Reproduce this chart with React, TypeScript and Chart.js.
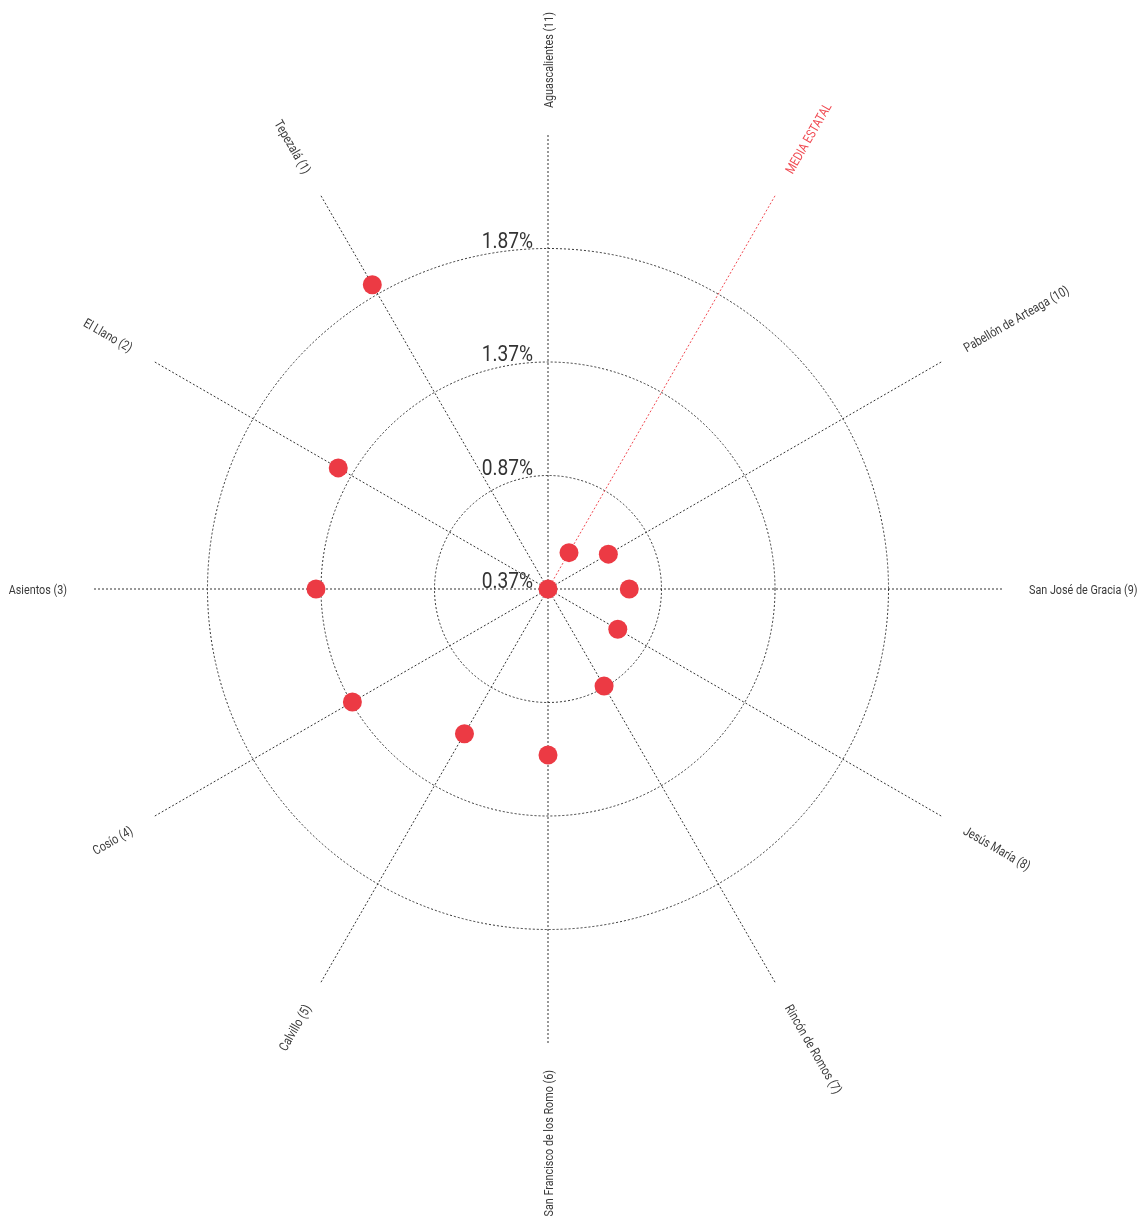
import React, { useEffect, useRef } from "react";
import { Chart, registerables } from "chart.js";

Chart.register(...registerables);

const categories = [
  "Aguascalientes (11)",
  "MEDIA ESTATAL",
  "Pabellón de Arteaga (10)",
  "San José de Gracia (9)",
  "Jesús María (8)",
  "Rincón de Romos (7)",
  "San Francisco de los Romo (6)",
  "Calvillo (5)",
  "Cosío (4)",
  "Asientos (3)",
  "El Llano (2)",
  "Tepezalá (1)",
];

const values = [0.37, 0.555, 0.677, 0.728, 0.725, 0.864, 1.101, 1.106, 1.365, 1.392, 1.437, 1.918];

const tickValues = [0.37, 0.87, 1.37, 1.87];
const tickLabels = ["0.37%", "0.87%", "1.37%", "1.87%"];
const scaleMin = 0.37;
const scaleMax = 2.37;
const highlightIndex = 1;

const RED = "#ec3a44";
const RED_LINE = "#f04a52";
const DARK = "#333333";
const FONT = 'Roboto, "Open Sans", sans-serif';

const labelPlugin = {
  id: "radialLabels",
  afterDraw(chart: any) {
    const scale = chart.scales.r;
    const ctx = chart.ctx;
    const cx = scale.xCenter;
    const cy = scale.yCenter;
    const R = scale.drawingArea;
    ctx.save();
    // tick labels
    ctx.font = `22px ${FONT}`;
    ctx.fillStyle = DARK;
    ctx.textAlign = "right";
    ctx.textBaseline = "alphabetic";
    tickValues.forEach((v, i) => {
      const d = scale.getDistanceFromCenterForValue(v);
      ctx.save();
      ctx.translate(cx - 15, cy - d - 1);
      ctx.scale(0.87, 1);
      ctx.fillText(tickLabels[i], 0, 0);
      ctx.restore();
    });
    // spoke labels
    ctx.font = `13px ${FONT}`;
    const n = categories.length;
    categories.forEach((lab, i) => {
      const th = -Math.PI / 2 + (i * 2 * Math.PI) / n;
      const dist = R + 27;
      const px = cx + dist * Math.cos(th);
      const py = cy + dist * Math.sin(th);
      const right = Math.cos(th) > 1e-6 || i === 0;
      ctx.save();
      ctx.translate(px, py);
      ctx.rotate(right ? th : th + Math.PI);
      ctx.scale(0.83, 1);
      ctx.textAlign = right ? "left" : "right";
      ctx.textBaseline = "alphabetic";
      ctx.fillStyle = i === highlightIndex ? RED_LINE : "#3a3a3a";
      ctx.fillText(lab, 0, 4.5);
      ctx.restore();
    });
    ctx.restore();
  },
};

export default function App() {
  const ref = useRef<HTMLCanvasElement | null>(null);
  useEffect(() => {
    if (!ref.current) return;
    const chart = new Chart(ref.current, {
      type: "radar",
      data: {
        labels: categories,
        datasets: [
          {
            data: values,
            showLine: false,
            fill: false,
            borderWidth: 0,
            borderColor: "rgba(0,0,0,0)",
            backgroundColor: "rgba(0,0,0,0)",
            pointBackgroundColor: RED,
            pointBorderColor: RED,
            pointBorderWidth: 0,
            pointRadius: 9.5,
            pointHoverRadius: 9.5,
          } as any,
        ],
      },
      options: {
        responsive: false,
        animation: false,
        devicePixelRatio: 1,
        layout: { padding: { left: 94, right: 135, top: 135, bottom: 173 } },
        plugins: {
          legend: { display: false },
          tooltip: { enabled: false },
          title: { display: false },
          filler: { propagate: false },
        },
        scales: {
          r: {
            min: scaleMin,
            max: scaleMax,
            afterBuildTicks: (scale: any) => {
              scale.ticks = tickValues.map((v) => ({ value: v }));
            },
            ticks: { display: false },
            pointLabels: { display: false },
            grid: { circular: true, color: DARK, lineWidth: 1 },
            border: { dash: [2, 2] } as any,
            angleLines: {
              display: true,
              color: (c: any) => (c.index === highlightIndex ? RED_LINE : DARK),
              lineWidth: 1,
              borderDash: [2, 2],
            },
          } as any,
        },
      },
      plugins: [labelPlugin],
    });
    return () => chart.destroy();
  }, []);
  return (
    <div style={{ position: "absolute", left: 0, top: 0, width: 1137, height: 1216, background: "#fff" }}>
      <canvas ref={ref} width={1137} height={1216} style={{ width: 1137, height: 1216 }} />
    </div>
  );
}
